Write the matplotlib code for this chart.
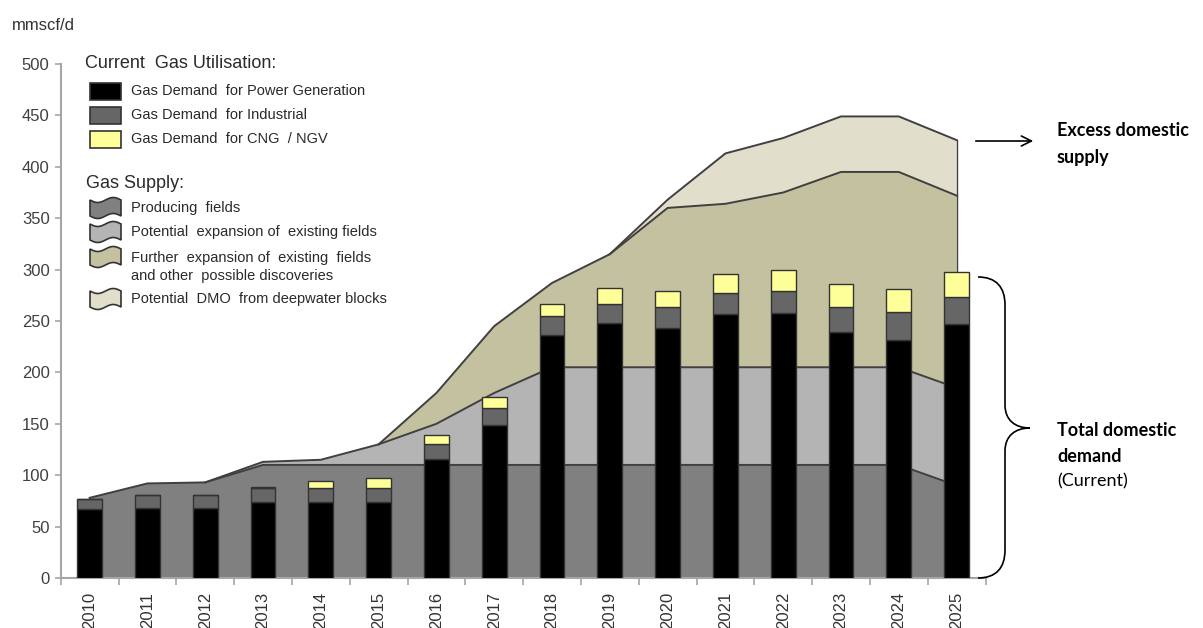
import numpy as np
import matplotlib.pyplot as plt
from matplotlib.patches import Rectangle, PathPatch, FancyArrowPatch
from matplotlib.path import Path
from matplotlib.transforms import Affine2D

plt.rcParams['font.family'] = ['Liberation Sans', 'DejaVu Sans']

years = [str(y) for y in range(2010, 2026)]

# demand bars (mmscf/d)
power = [67, 68, 68, 74, 74, 74, 116, 149, 236, 248, 243, 257, 258, 239, 232, 247]
industrial = [10, 13, 13, 14, 14, 14, 14, 16, 19, 19, 21, 20, 21, 25, 27, 26]
cng = [0, 0, 0, 1, 6, 9, 9, 11, 12, 15, 15, 19, 21, 22, 22, 25]

# supply layers (stacked areas)
producing = [78, 92, 93, 110, 110, 110, 110, 110, 110, 110, 110, 110, 110, 110, 110, 90]
potential = [0, 0, 0, 3, 5, 20, 40, 70, 95, 95, 95, 95, 95, 95, 95, 95]
further = [0, 0, 0, 0, 0, 0, 30, 65, 82, 110, 155, 159, 170, 190, 190, 187]
dmo = [0, 0, 0, 0, 0, 0, 0, 0, 0, 0, 8, 49, 53, 54, 54, 54]

demand_labels = ['Gas Demand  for Power Generation', 'Gas Demand  for Industrial',
                 'Gas Demand  for CNG  / NGV']
supply_labels = ['Producing  fields', 'Potential  expansion of  existing fields',
                 'Further  expansion of  existing  fields\nand other  possible discoveries',
                 'Potential  DMO  from deepwater blocks']

demand_colors = ['#000000', '#666666', '#FFFF99']
supply_colors = ['#808080', '#B4B4B4', '#C4C1A0', '#E1DFCC']
edge = '#404040'

W, H = 1203, 628
fig = plt.figure(figsize=(W / 100, H / 100), dpi=100)
ax = fig.add_axes([60.7 / W, 1 - 578 / H, (985.5 - 60.7) / W, (578 - 64) / H])

x = np.arange(len(years))

# stacked areas
base = np.zeros(len(years))
for layer, col in zip([producing, potential, further, dmo], supply_colors):
    top = base + np.array(layer)
    ax.fill_between(x, base, top, facecolor=col, edgecolor='none', zorder=1)
    if layer is producing:
        ax.plot(x, top, color=edge, lw=1.4, zorder=2)
    else:
        idx = np.where(np.array(layer) > 0)[0]
        lo = max(idx[0] - 1, 0)
        ax.plot(x[lo:], top[lo:], color=edge, lw=1.4, zorder=2)
        ax.plot([x[-1], x[-1]], [base[-1], top[-1]], color=edge, lw=1.0, zorder=2)
    base = top

# stacked bars
w = 0.43
b1 = np.array(power)
b2 = b1 + np.array(industrial)
ax.bar(x, power, width=w, color=demand_colors[0], edgecolor='#333333', lw=1, zorder=3)
ax.bar(x, industrial, width=w, bottom=b1, color=demand_colors[1], edgecolor='#333333', lw=1, zorder=3)
ax.bar(x, cng, width=w, bottom=b2, color=demand_colors[2], edgecolor='#333333', lw=1, zorder=3)

ax.set_xlim(-0.5, len(years) - 0.5)
ax.set_ylim(0, 500)
ax.set_yticks(range(0, 501, 50))
ax.tick_params(axis='y', labelsize=12, labelcolor='#404040', color='#a6a6a6', length=4, width=1.2, pad=4)
ax.set_xticks(x)
ax.set_xticklabels(years, rotation=90)
ax.tick_params(axis='x', which='major', length=0, pad=10, labelsize=12, labelcolor='#333333')
ax.set_xticks(np.arange(-0.5, len(years), 1), minor=True)
ax.tick_params(axis='x', which='minor', length=5, color='#a6a6a6', width=1.2)
for s in ['top', 'right']:
    ax.spines[s].set_visible(False)
for s in ['left', 'bottom']:
    ax.spines[s].set_color('#a6a6a6')
    ax.spines[s].set_linewidth(1.5)

# pixel transform (origin top-left)
pt = Affine2D().scale(1 / W, -1 / H).translate(0, 1) + fig.transFigure

fig.text(12, 25, 'mmscf/d', transform=pt, fontsize=12, color='#333333', va='center')

# legend
txt = '#2a2a2a'
fig.text(85, 63, 'Current  Gas Utilisation:', transform=pt, fontsize=13, color=txt, va='center')
for i, (lab, col) in enumerate(zip(demand_labels, demand_colors)):
    yc = 91 + i * 24
    fig.add_artist(Rectangle((90, yc - 8.5), 31, 17, transform=pt, facecolor=col,
                             edgecolor='#333333', lw=1.2))
    fig.text(131, yc, lab, transform=pt, fontsize=10.5, color=txt, va='center')

fig.text(86, 183, 'Gas Supply:', transform=pt, fontsize=13, color=txt, va='center')
t = np.linspace(0, 1, 30)
for lab, col, yc in zip(supply_labels, supply_colors, [208, 232, 257, 299]):
    xs = 90 + 31 * t
    top = yc - 8 + 2.5 * np.sin(2 * np.pi * t)
    bot = yc + 8 + 2.5 * np.sin(2 * np.pi * t)
    verts = list(zip(xs, top)) + list(zip(xs[::-1], bot[::-1])) + [(xs[0], top[0])]
    codes = [Path.MOVETO] + [Path.LINETO] * (len(verts) - 2) + [Path.CLOSEPOLY]
    fig.add_artist(PathPatch(Path(verts, codes), transform=pt, facecolor=col,
                             edgecolor='#333333', lw=1.2))
    if '\n' in lab:
        fig.text(131, yc + 10, lab, transform=pt, fontsize=10.5, color=txt, va='center',
                 linespacing=1.45)
    else:
        fig.text(131, yc, lab, transform=pt, fontsize=10.5, color=txt, va='center')

# right side annotations
fig.add_artist(FancyArrowPatch((973, 141), (1036, 141), transform=pt, arrowstyle='->',
                               mutation_scale=18, lw=1.2, color='black'))
ann = ['Lato', 'DejaVu Sans']
fig.text(1057, 130, 'Excess domestic', transform=pt, fontsize=13, fontweight='bold',
         family=ann, va='center')
fig.text(1057, 157, 'supply', transform=pt, fontsize=13, fontweight='bold', family=ann, va='center')

brace = [(978, 277), (996, 277), (1005, 287), (1005, 305),
         (1005, 405),
         (1005, 420), (1015, 428), (1030, 428),
         (1015, 428), (1005, 436), (1005, 451),
         (1005, 550),
         (1005, 568), (996, 578), (978, 578)]
bcodes = [Path.MOVETO, Path.CURVE4, Path.CURVE4, Path.CURVE4, Path.LINETO,
          Path.CURVE4, Path.CURVE4, Path.CURVE4, Path.CURVE4, Path.CURVE4, Path.CURVE4,
          Path.LINETO, Path.CURVE4, Path.CURVE4, Path.CURVE4]
fig.add_artist(PathPatch(Path(brace, bcodes), transform=pt, facecolor='none',
                         edgecolor='black', lw=1.2))
fig.text(1057, 430, 'Total domestic', transform=pt, fontsize=13, fontweight='bold',
         family=ann, va='center')
fig.text(1057, 456, 'demand', transform=pt, fontsize=13, fontweight='bold', family=ann, va='center')
fig.text(1057, 481, '(Current)', transform=pt, fontsize=13, family=ann, va='center')

fig.savefig('out.png', dpi=100)
